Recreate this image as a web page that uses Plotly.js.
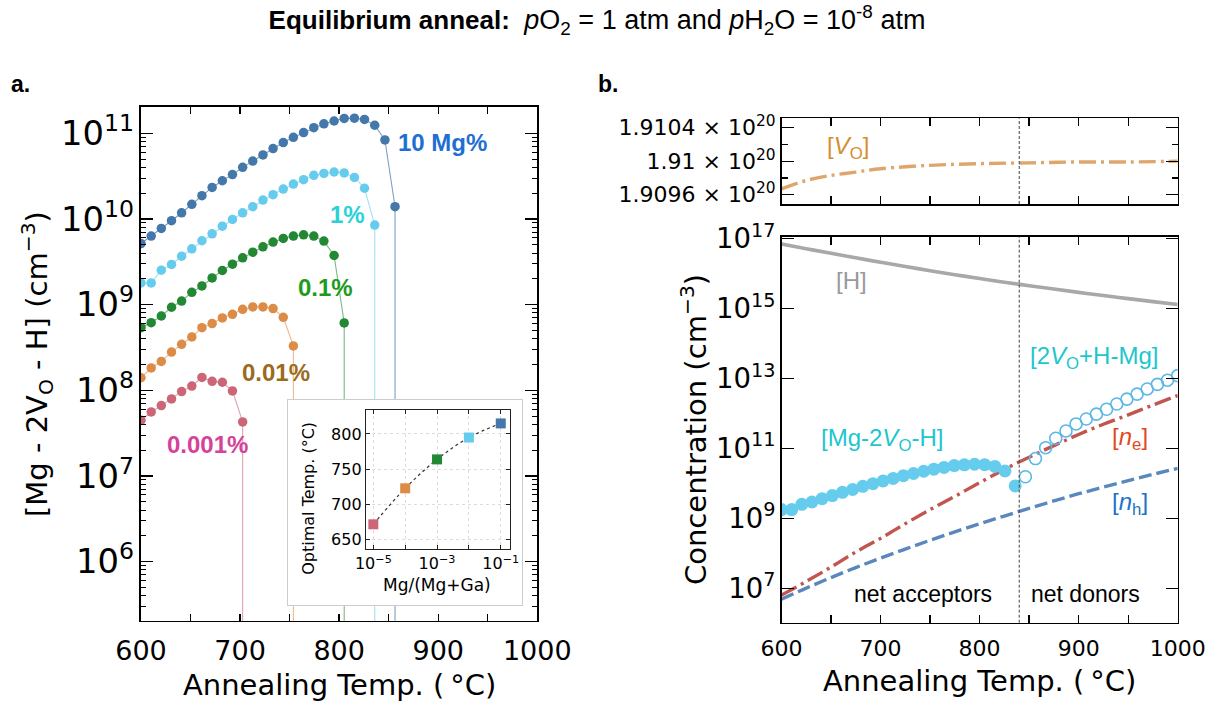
<!DOCTYPE html>
<html><head><meta charset="utf-8">
<script src="https://cdn.plot.ly/plotly-3.0.1.min.js"></script>
<style>
html,body{margin:0;padding:0;background:#fff;}
#wrap{position:relative;width:1217px;height:705px;}
#chart{position:absolute;left:0;top:0;width:1217px;height:705px;}
#insetBox{position:absolute;left:287px;top:399px;width:236px;height:207px;box-sizing:border-box;border:1.5px solid #cccccc;background:#fff;}
#inset{width:233px;height:204px;}
</style>
</head><body><div id="wrap"><div id="chart"></div><div id="insetBox"><div id="inset"></div></div></div>
<script>
// ---------------- DATA ----------------
// Panel a: annealing temperatures (°C)
const tempsA = [600.0, 610.3, 620.5, 630.8, 641.0, 651.3, 661.5, 671.8, 682.1, 692.3,
  702.6, 712.8, 723.1, 733.3, 743.6, 753.8, 764.1, 774.4, 784.6, 794.9,
  805.1, 815.4, 825.6, 835.9, 846.2, 856.4, 866.7, 876.9, 887.2, 897.4,
  907.7, 917.9, 928.2, 938.5, 948.7, 959.0, 969.2, 979.5, 989.7, 1000.0];
// [Mg - 2V_O - H] (cm^-3) for each Mg fraction
const mg10 = [5.16e9, 6.30e9, 7.74e9, 9.53e9, 1.18e10, 1.48e10, 1.87e10, 2.33e10, 2.79e10, 3.29e10,
  4.00e10, 4.74e10, 5.58e10, 6.62e10, 7.78e10, 8.97e10, 1.02e11, 1.16e11, 1.29e11, 1.39e11,
  1.49e11, 1.50e11, 1.45e11, 1.24e11, 8.36e10, 1.39e10];
const mg1 = [1.79e9, 1.79e9, 2.52e9, 2.94e9, 3.67e9, 4.48e9, 5.56e9, 6.71e9, 8.24e9, 9.86e9,
  1.18e10, 1.39e10, 1.66e10, 1.92e10, 2.23e10, 2.55e10, 2.87e10, 3.23e10, 3.40e10, 3.53e10,
  3.44e10, 3.05e10, 2.28e10, 8.47e9];
const mg01 = [5.38e8, 6.15e8, 7.36e8, 9.31e8, 1.10e9, 1.39e9, 1.65e9, 2.05e9, 2.50e9, 2.96e9,
  3.52e9, 4.09e9, 4.72e9, 5.36e9, 5.92e9, 6.30e9, 6.53e9, 6.30e9, 5.51e9, 3.74e9, 6.11e8];
const mg001 = [1.40e8, 1.82e8, 2.17e8, 2.79e8, 3.44e8, 4.19e8, 5.38e8, 6.00e8, 6.98e8, 7.71e8,
  8.81e8, 9.40e8, 9.40e8, 8.98e8, 7.11e8, 3.29e8];
const mg0001 = [4.46e7, 5.58e7, 6.62e7, 7.93e7, 9.64e7, 1.12e8, 1.41e8, 1.27e8, 1.24e8, 9.82e7, 4.27e7];
const dropFloor = 1e-3;   // concentration collapses (non-positive) after the last point
const seriesLabels = ['10 Mg%', '1%', '0.1%', '0.01%', '0.001%'];

// Inset: optimal temperature vs Mg fraction
const mgFraction = [1e-5, 1e-4, 1e-3, 1e-2, 1e-1];
const optimalTemp = [672, 723, 764, 795, 815];
const insetXTickText = ['10<sup>−5</sup>', '', '10<sup>−3</sup>', '', '10<sup>−1</sup>'];
const insetYTicks = [650, 700, 750, 800];

// Panel b
const tempsB = [600, 625, 650, 675, 700, 725, 750, 775, 800, 825, 850, 875, 900, 925, 950, 975, 1000];
const hConc = [6.92e16, 5.07e16, 3.76e16, 2.79e16, 2.09e16, 1.58e16, 1.20e16, 9.23e15, 7.16e15,
  5.62e15, 4.47e15, 3.59e15, 2.88e15, 2.34e15, 1.91e15, 1.57e15, 1.29e15];
const neConc = [6.46e6, 1.58e7, 4.07e7, 1.10e8, 2.69e8, 7.08e8, 1.78e9, 4.27e9, 1.05e10,
  2.51e10, 5.62e10, 1.20e11, 2.51e11, 4.90e11, 9.12e11, 1.74e12, 3.24e12];
const nhConc = [4.90e6, 1.02e7, 2.04e7, 3.94e7, 7.33e7, 1.33e8, 2.37e8, 4.12e8, 7.00e8,
  1.17e9, 1.95e9, 3.16e9, 5.07e9, 7.85e9, 1.20e10, 1.82e10, 2.69e10];
const donorConc = [1.55e10, 5.13e10, 1.05e11, 1.95e11, 3.16e11, 5.01e11, 6.92e11, 9.55e11,
  1.32e12, 1.86e12, 2.57e12, 3.55e12, 5.01e12, 6.76e12, 8.91e12, 1.20e13];  // [2V_O+H-Mg], T >= 846
const tempsVO = [600, 625, 650, 675, 700, 750, 800, 850, 900, 950, 1000];
const voConc = [1.90967e20, 1.90977e20, 1.90983e20, 1.90987e20, 1.90991e20, 1.90995e20,
  1.90997e20, 1.90998e20, 1.90999e20, 1.90999e20, 1.91000e20];
const voTicks = [1.9096e20, 1.9100e20, 1.9104e20];
const voMinorTicks = [1.9098e20, 1.9102e20];
const voTickText = ['1.9096 × 10<sup>20</sup>', '1.91 × 10<sup>20</sup>', '1.9104 × 10<sup>20</sup>'];
const transitionT = 840;

// ---------------- LAYOUT HELPERS ----------------
const W = 1217, H = 705;
const fx = p => p / W, fy = p => 1 - p / H;
const DJ = 'DejaVu Sans', LB = 'Liberation Sans, Arial, sans-serif';

const colA = ['#4477AA', '#66CCEE', '#228833', '#DD8C48', '#CC6677'];
const lineColA = ['rgba(68,119,170,0.7)', 'rgba(102,204,238,0.6)', 'rgba(34,136,51,0.6)', 'rgba(221,140,72,0.6)', 'rgba(204,102,119,0.6)'];
const labCol = ['#1F6FD2', '#2AD2D8', '#1E9B1E', '#9B6B20', '#D5429A'];
const labPos = [[443, 143], [347, 214], [325, 287], [275.5, 372], [207.5, 444]];

const traces = [];
[mg10, mg1, mg01, mg001, mg0001].forEach((ys, i) => {
  const xs = tempsA.slice(0, ys.length);
  traces.push({x: xs.concat([xs[xs.length - 1]]), y: ys.concat([dropFloor]), xaxis: 'x', yaxis: 'y',
    mode: 'lines', line: {color: lineColA[i], width: 1.1}, hoverinfo: 'skip'});
  traces.push({x: xs, y: ys, xaxis: 'x', yaxis: 'y', mode: 'markers',
    marker: {color: colA[i], size: 9.5, line: {width: 0}}, name: seriesLabels[i]});
});

// panel b bottom
traces.push({x: tempsB, y: hConc, xaxis: 'x2', yaxis: 'y2', mode: 'lines', line: {color: '#A8A8A8', width: 3.6, shape: 'spline'}});
traces.push({x: tempsB, y: nhConc, xaxis: 'x2', yaxis: 'y2', mode: 'lines', line: {color: '#5A88BD', width: 3.4, dash: '13px,5px', shape: 'spline'}});
traces.push({x: tempsB, y: neConc, xaxis: 'x2', yaxis: 'y2', mode: 'lines', line: {color: '#C1554F', width: 3.4, dash: '17px,5px,3px,5px', shape: 'spline'}});
traces.push({x: tempsA.slice(0, mg1.length), y: mg1, xaxis: 'x2', yaxis: 'y2', mode: 'markers',
  marker: {color: '#66CCEE', size: 13, line: {width: 0}}});
traces.push({x: tempsA.slice(mg1.length), y: donorConc, xaxis: 'x2', yaxis: 'y2', mode: 'markers',
  marker: {color: 'rgba(0,0,0,0)', size: 12, line: {color: '#5BB8E6', width: 1.6}}});
// panel b top
traces.push({x: tempsVO, y: voConc, xaxis: 'x3', yaxis: 'y3', mode: 'lines',
  line: {color: '#DFA66C', width: 3.4, dash: '17px,5px,3px,5px', shape: 'spline'}});

const axBase = {showline: true, linecolor: '#000', linewidth: 1.6, mirror: 'ticks', ticks: 'inside',
  tickcolor: '#000', tickwidth: 1.3, showgrid: false, zeroline: false};

const A = {l: 141, r: 537.3, t: 106.7, b: 620.7};
const B = {l: 781.5, r: 1177.7, t: 236.7, b: 622.7};
const Bt = {t: 118.3, b: 204};

const regular = s => '<span style="font-size:27px">' + s + '</span>';
const layout = {
  width: W, height: H, margin: {l: 0, r: 0, t: 0, b: 0, pad: 0},
  paper_bgcolor: 'rgba(0,0,0,0)', plot_bgcolor: 'rgba(0,0,0,0)', showlegend: false,
  font: {family: DJ, color: '#000'},
  title: {text: '<b>Equilibrium anneal:</b>&#160; ' + regular('<i>p</i>O<sub>2</sub> = 1 atm and <i>p</i>H<sub>2</sub>O = 10<sup>-8</sup> atm'),
    font: {family: LB, size: 26, color: '#000'}, x: fx(597), xanchor: 'center', y: fy(20), yanchor: 'middle'},
  xaxis: Object.assign({}, axBase, {domain: [fx(A.l), fx(A.r)], anchor: 'y', range: [600, 1000],
    dtick: 100, tick0: 0, ticklen: 7, tickfont: {size: 27, family: DJ}, ticklabelstandoff: 5,
    minor: {ticks: 'inside', dtick: 50, tick0: 0, ticklen: 7, tickwidth: 1.3, tickcolor: '#000'}}),
  yaxis: Object.assign({}, axBase, {domain: [fy(A.b), fy(A.t)], anchor: 'x', type: 'log', range: [5.31, 11.31],
    dtick: 1, exponentformat: 'power', ticklen: 12, tickfont: {size: 27, family: DJ},
    minor: {ticks: 'inside', dtick: 'D1', ticklen: 5, tickwidth: 1, tickcolor: '#000'}}),
  xaxis2: Object.assign({}, axBase, {domain: [fx(B.l), fx(B.r)], anchor: 'y2', range: [600, 1000],
    dtick: 100, tick0: 0, ticklen: 8, tickfont: {size: 22, family: DJ}, ticklabelstandoff: 5,
    minor: {ticks: 'inside', dtick: 50, tick0: 0, ticklen: 8, tickwidth: 1.3, tickcolor: '#000'}}),
  yaxis2: Object.assign({}, axBase, {domain: [fy(B.b), fy(B.t)], anchor: 'x2', type: 'log', range: [6.02, 17.05],
    dtick: 2, tick0: 1, exponentformat: 'power', ticklen: 12, tickfont: {size: 22, family: DJ}}),
  xaxis3: Object.assign({}, axBase, {domain: [fx(B.l), fx(B.r)], anchor: 'y3', range: [600, 1000],
    dtick: 50, tick0: 0, ticklen: 8, showticklabels: false}),
  yaxis3: Object.assign({}, axBase, {domain: [fy(Bt.b), fy(Bt.t)], anchor: 'x3', range: [1.90949e20, 1.91051e20],
    tickmode: 'array', tickvals: voTicks, ticktext: voTickText, ticklen: 12, tickfont: {size: 22, family: DJ},
    minor: {ticks: 'inside', tickmode: 'array', tickvals: voMinorTicks, ticklen: 6, tickwidth: 1.3, tickcolor: '#000'}}),
  shapes: [
    {type: 'line', xref: 'x2', yref: 'y2 domain', x0: transitionT, x1: transitionT, y0: 0, y1: 1,
      line: {color: '#444', width: 1, dash: '3px,2px'}},
    {type: 'line', xref: 'x3', yref: 'y3 domain', x0: transitionT, x1: transitionT, y0: 0, y1: 1,
      line: {color: '#444', width: 1, dash: '3px,2px'}}
  ],
  annotations: []
};

const ann = (text, x, y, opts) => Object.assign({text, x: fx(x), y: fy(y), xref: 'paper', yref: 'paper',
  showarrow: false, xanchor: 'center', yanchor: 'middle'}, opts || {});

seriesLabels.forEach((t, i) => layout.annotations.push(
  ann('<b>' + t + '</b>', labPos[i][0], labPos[i][1], {font: {family: LB, size: 24, color: labCol[i]}})));

const lab = {family: LB, size: 24};
layout.annotations.push(
  ann('<b>a.</b>', 20, 84, {font: {family: LB, size: 23}}),
  ann('<b>b.</b>', 608, 84, {font: {family: LB, size: 23}}),
  ann('Annealing Temp. (\u2009°C)', 339, 685, {font: {family: DJ, size: 29}}),
  ann('[Mg - 2V<sub>O</sub> - H] (cm<sup>−3</sup>)', 37, 364, {font: {family: DJ, size: 29}, textangle: -90}),
  ann('Annealing Temp. (\u2009°C)', 979.6, 681, {font: {family: DJ, size: 29}}),
  ann('Concentration (cm<sup>−3</sup>)', 694, 430, {font: {family: DJ, size: 29}, textangle: -90}),
  ann('[<i>V</i><sub>O</sub>]', 848, 148, {font: Object.assign({}, lab, {color: '#D48E30'})}),
  ann('[H]', 851.7, 280, {font: Object.assign({}, lab, {color: '#9A9A9A'})}),
  ann('[2<i>V</i><sub>O</sub>+H-Mg]', 1093.7, 358, {font: Object.assign({}, lab, {color: '#1DC6CE'})}),
  ann('[Mg-2<i>V</i><sub>O</sub>-H]', 881.7, 439, {font: Object.assign({}, lab, {color: '#1DC6CE'})}),
  ann('[<i>n</i><sub>e</sub>]', 1130, 438, {font: Object.assign({}, lab, {color: '#E2481F'})}),
  ann('[<i>n</i><sub>h</sub>]', 1130, 503, {font: Object.assign({}, lab, {color: '#2272C8'})}),
  ann('net acceptors', 922.8, 594, {font: {family: LB, size: 23}}),
  ann('net donors', 1085.8, 594, {font: {family: LB, size: 23}})
);

Plotly.newPlot('chart', traces, layout, {staticPlot: true, displayModeBar: false});

// ---------------- INSET (separate plot with opaque frame) ----------------
const IO = {x: 288.5, y: 400.5, w: 233, h: 204};          // inner origin of inset box (page px)
const I = {l: 366, r: 511, t: 410, b: 550};               // inset plot area (page px)
const ix = p => (p - I.l) / (I.r - I.l), iy = p => (I.b - p) / (I.b - I.t);
const insetTraces = [
  {x: mgFraction, y: optimalTemp, mode: 'lines', line: {color: '#333', width: 1.2, dash: 'dot', shape: 'spline'}},
  {x: mgFraction, y: optimalTemp, mode: 'markers',
    marker: {symbol: 'square', size: 10, color: colA.slice().reverse(), line: {width: 0}}}
];
const insetAx = {showline: true, linecolor: '#222', linewidth: 1.2, mirror: 'ticks', ticks: 'inside',
  tickcolor: '#222', ticklen: 4, tickwidth: 1, zeroline: false, tickfont: {size: 16, family: DJ},
  showgrid: true, gridcolor: '#d4d4d4', gridwidth: 0.8, griddash: 'dot'};
const insetLayout = {
  width: IO.w, height: IO.h, paper_bgcolor: '#fff', plot_bgcolor: '#fff', showlegend: false,
  margin: {l: I.l - IO.x, r: IO.x + IO.w - I.r, t: I.t - IO.y, b: IO.y + IO.h - I.b, pad: 0},
  font: {family: DJ, color: '#000'},
  xaxis: Object.assign({}, insetAx, {type: 'log', range: [-5.23, -0.71], tickmode: 'array',
    tickvals: mgFraction, ticktext: insetXTickText}),
  yaxis: Object.assign({}, insetAx, {range: [637, 834], tickmode: 'array', tickvals: insetYTicks}),
  annotations: [
    {text: 'Optimal Temp. (°C)', xref: 'paper', yref: 'paper', x: ix(308), y: iy(499), showarrow: false,
      xanchor: 'center', yanchor: 'middle', textangle: -90, font: {family: DJ, size: 16}},
    {text: 'Mg/(Mg+Ga)', xref: 'paper', yref: 'paper', x: ix(437.5), y: iy(586), showarrow: false,
      xanchor: 'center', yanchor: 'middle', font: {family: DJ, size: 17}}
  ]
};
Plotly.newPlot('inset', insetTraces, insetLayout, {staticPlot: true, displayModeBar: false});
</script></body></html>
